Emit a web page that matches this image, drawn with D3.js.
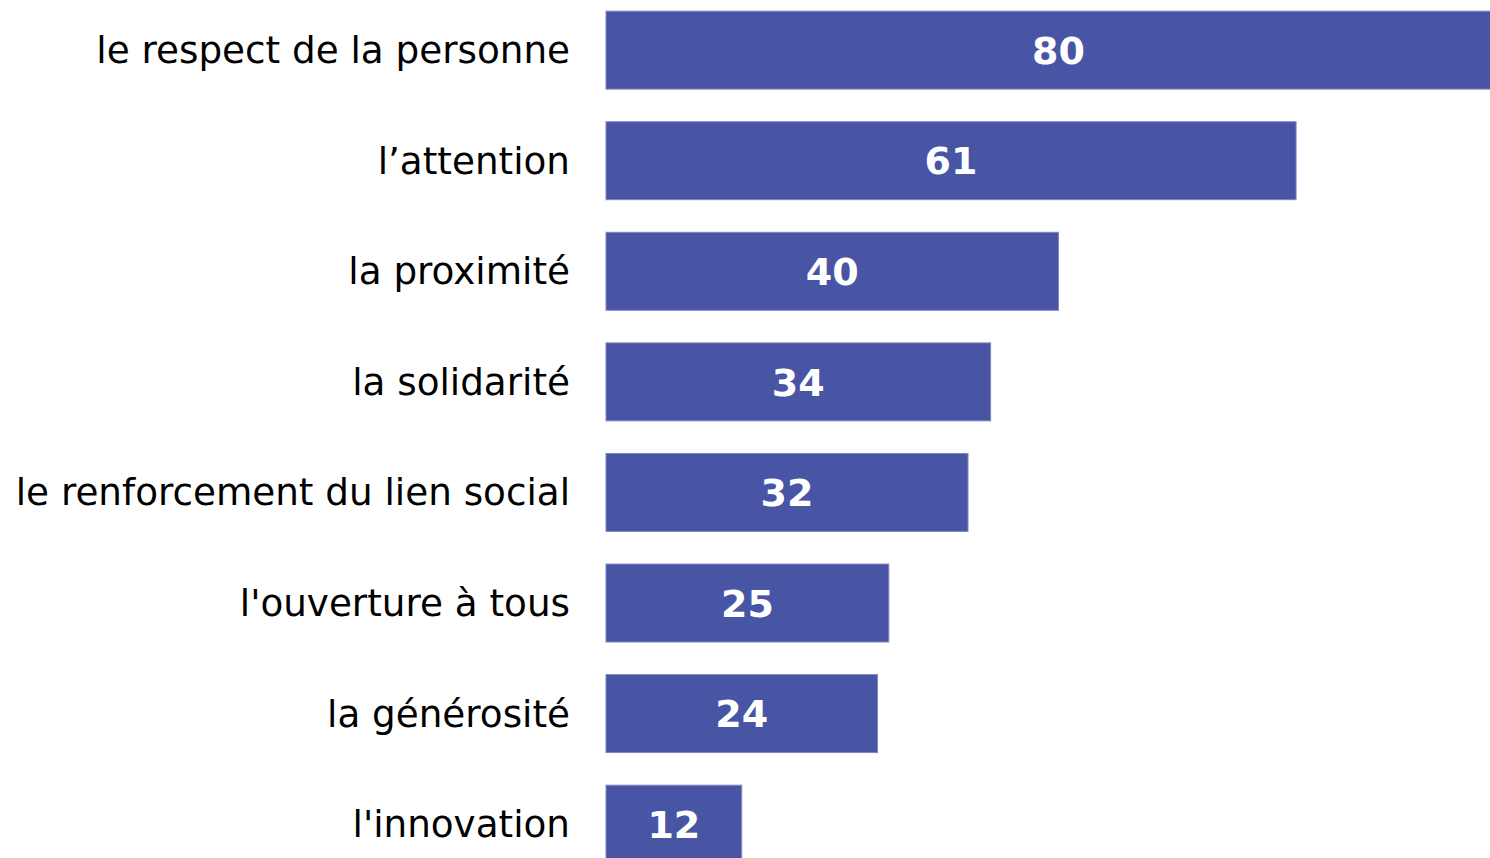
<!DOCTYPE html>
<html>
<head>
<meta charset="utf-8">
<script src="https://cdn.jsdelivr.net/npm/d3@7"></script>
<style>
  body { margin: 0; background: #fff; overflow: hidden; }
</style>
</head>
<body>
<div id="chart"></div>
<script>
// data
const categories = [
  "le respect de la personne",
  "l\u2019attention",
  "la proximité",
  "la solidarité",
  "le renforcement du lien social",
  "l'ouverture à tous",
  "la générosité",
  "l'innovation"
];
const values = [80, 61, 40, 34, 32, 25, 24, 12];

const width = 1490, height = 858;
const margin = {top: 0, right: 0, bottom: 0, left: 606};

const svg = d3.select("#chart")
  .append("svg")
    .attr("width", width)
    .attr("height", height);

// x: ~11.3 px per point, so the 80 bar runs off the right edge
const x = d3.scaleLinear()
  .domain([0, 80])
  .range([margin.left, margin.left + 905]);

const y = d3.scaleBand()
  .domain(categories)
  .range([-4, 878.3])
  .paddingInner(0.295)
  .paddingOuter(0.137);

const rows = categories.map((c, i) => ({cat: c, value: values[i]}));

// bars
svg.append("g")
  .selectAll("rect")
  .data(rows)
  .join("rect")
    .attr("x", x(0))
    .attr("y", d => y(d.cat))
    .attr("width", d => x(d.value) - x(0))
    .attr("height", y.bandwidth())
    .attr("fill", "#4855a5")
    .attr("stroke", "#7f88c2")
    .attr("stroke-width", 1);

// category labels
svg.append("g")
  .selectAll("text")
  .data(rows)
  .join("text")
    .attr("x", 570)
    .attr("y", d => y(d.cat) + y.bandwidth() / 2)
    .attr("dy", "0.35em")
    .attr("text-anchor", "end")
    .style("font-family", "Verdana, 'DejaVu Sans', sans-serif")
    .style("font-size", "37.3px")
    .style("fill", "#000")
    .text(d => d.cat);

// value labels
svg.append("g")
  .selectAll("text")
  .data(rows)
  .join("text")
    .attr("x", d => (x(0) + x(d.value)) / 2)
    .attr("y", d => y(d.cat) + y.bandwidth() / 2)
    .attr("dy", "0.36em")
    .attr("text-anchor", "middle")
    .style("font-family", "Verdana, 'DejaVu Sans', sans-serif")
    .style("font-weight", "bold")
    .style("font-size", "38px")
    .style("fill", "#fff")
    .text(d => d.value);
</script>
</body>
</html>
